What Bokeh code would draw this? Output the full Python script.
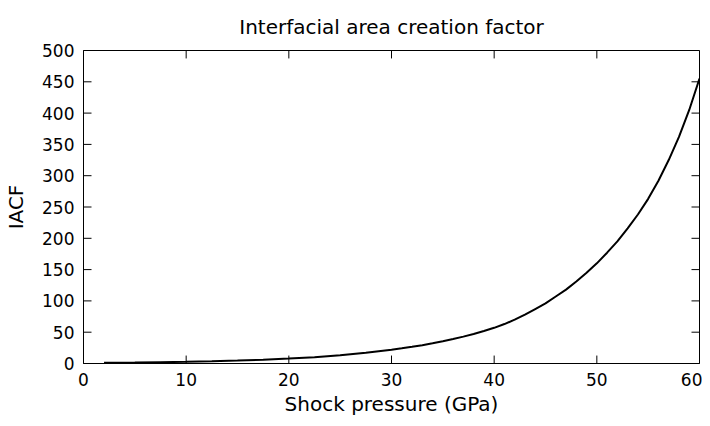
from bokeh.plotting import figure
from bokeh.models import LinearAxis, Range1d, FixedTicker, Title
from bokeh.embed import file_html
from bokeh.resources import INLINE

pressure = [2, 5, 7.5, 10, 12.5, 15, 17.5, 20, 22.5, 25, 27.5,
            30, 31, 32, 33, 34, 35, 36, 37, 38, 39,
            40, 41, 42, 43, 44, 45, 46, 47, 48, 49,
            50, 51, 52, 53, 54, 55, 56, 57, 58, 59, 60]
iacf = [1.2, 1.6, 2.1, 2.7, 3.5, 4.6, 6.0, 7.8, 10.0, 13.0, 17.0,
        22.0, 24.2, 26.6, 29.3, 32.2, 35.5, 39.0, 42.9, 47.2, 51.9,
        57.0, 63.0, 70.0, 78.0, 87.0, 96.0, 107.0, 118.0, 131.0, 145.0,
        160.0, 177.0, 195.0, 216.0, 238.0, 263.0, 292.0, 325.0, 362.0, 405.0, 455.0]
x_ticks = [0, 10, 20, 30, 40, 50, 60]
y_ticks = [0, 50, 100, 150, 200, 250, 300, 350, 400, 450, 500]
title_text = "Interfacial area creation factor"
x_label = "Shock pressure (GPa)"
y_label = "IACF"

FONT = "DejaVu Sans"
X0, X1, Y0, Y1 = 0, 60, 0, 500
W, H = 702, 418
BL, BR, BT, BB = 83, 3, 50, 53
FW, FH = W - BL - BR, H - BT - BB
TICK = 8  # px, inward

p = figure(width=W, height=H, output_backend="svg", toolbar_location=None,
           x_range=Range1d(X0, X1), y_range=Range1d(Y0, Y1),
           x_axis_location=None, y_axis_location=None,
           min_border_left=BL, min_border_right=BR, min_border_top=BT, min_border_bottom=BB)
p.xgrid.visible = False
p.ygrid.visible = False
p.outline_line_color = "black"
p.outline_line_width = 1
p.background_fill_color = "white"
p.border_fill_color = "white"

p.line(pressure, iacf, line_color="black", line_width=2)

# inward ticks on all four sides
dy = TICK * (Y1 - Y0) / FH
dx = TICK * (X1 - X0) / FW
p.segment(x0=x_ticks, y0=[Y0] * len(x_ticks), x1=x_ticks, y1=[Y0 + dy] * len(x_ticks),
          line_color="black", line_width=1)
p.segment(x0=x_ticks, y0=[Y1] * len(x_ticks), x1=x_ticks, y1=[Y1 - dy] * len(x_ticks),
          line_color="black", line_width=1)
p.segment(x0=[X0] * len(y_ticks), y0=y_ticks, x1=[X0 + dx] * len(y_ticks), y1=y_ticks,
          line_color="black", line_width=1)
p.segment(x0=[X1] * len(y_ticks), y0=y_ticks, x1=[X1 - dx] * len(y_ticks), y1=y_ticks,
          line_color="black", line_width=1)

def style(ax):
    ax.axis_line_color = "black"
    ax.axis_line_width = 1
    ax.major_tick_in = 0
    ax.major_tick_out = 0
    ax.major_tick_line_color = None
    ax.minor_tick_line_color = None
    ax.major_label_text_font = FONT
    ax.major_label_text_font_size = "17px"
    ax.major_label_text_color = "black"
    ax.axis_label_text_font = FONT
    ax.axis_label_text_font_size = "20px"
    ax.axis_label_text_font_style = "normal"
    ax.axis_label_text_color = "black"

xb = LinearAxis(ticker=FixedTicker(ticks=x_ticks), axis_label=x_label)
style(xb)
xb.major_label_standoff = 9
xb.axis_label_standoff = 3
p.add_layout(xb, "below")

yl = LinearAxis(ticker=FixedTicker(ticks=y_ticks), axis_label=y_label)
style(yl)
yl.major_label_standoff = 9
yl.axis_label_standoff = 11
p.add_layout(yl, "left")

p.add_layout(Title(text=title_text, align="center", vertical_align="bottom",
                   text_font=FONT, text_font_size="20px", text_font_style="normal",
                   text_color="black", standoff=24), "above")

open("out.html", "w").write(file_html(p, INLINE))
